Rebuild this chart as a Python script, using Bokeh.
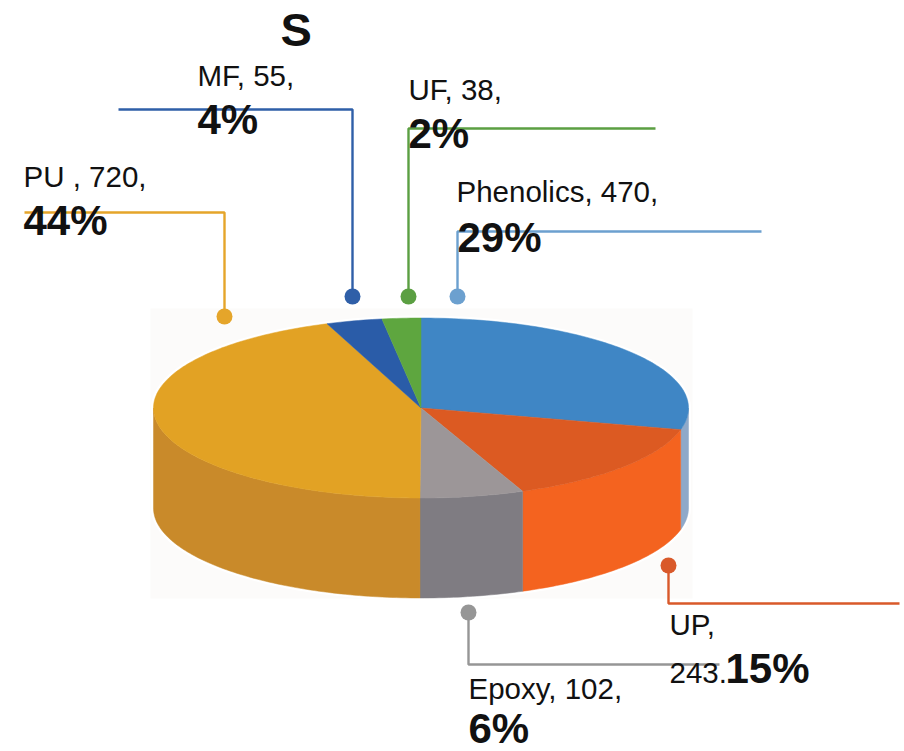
import numpy as np
from bokeh.core.properties import value
from bokeh.embed import file_html
from bokeh.models import ColumnDataSource, Range1d
from bokeh.plotting import figure
from bokeh.resources import INLINE

# ---- data (clockwise from 12 o'clock) ----
materials = ["Phenolics", "UP", "Epoxy", "PU", "MF", "UF"]
amounts = [470, 243, 102, 720, 55, 38]
percents = ["29%", "15%", "6%", "44%", "4%", "2%"]
title = "S"

# ---- styling ----
top_colors = ["#3F86C5", "#DC5A22", "#9C9698", "#E2A224", "#2A5CA8", "#5EA63F"]
wall_colors = ["#8FA9C9", "#F4631F", "#7F7C82", "#C98A2A", "#2A5CA8", "#5EA63F"]
leader_colors = ["#6CA0CF", "#D9592A", "#969696", "#E5A52A", "#2F5FA8", "#5B9F42"]

# ---- layout, in page pixels ----
W, H = 904, 751
CX, CY, RX, RY, DEPTH = 420.5, 407.5, 267.5, 90.0, 100.0
leaders = {
    "Phenolics": ([761, 457, 457], [231, 231, 296]),
    "UP": ([899, 668, 668], [603, 603, 565]),
    "Epoxy": ([719, 468, 468], [664, 664, 612]),
    "PU": ([24, 224, 224], [212, 212, 316]),
    "MF": ([118, 352, 352], [109, 109, 296]),
    "UF": ([655, 408, 408], [128, 128, 296]),
}
label_pos = {
    "Phenolics": (456, 202, 457, 252),
    "UP": (669, 635, 725, 683),
    "Epoxy": (468, 699, 468, 743),
    "PU": (23, 187, 23, 235),
    "MF": (197, 86, 197, 134),
    "UF": (408, 100, 408, 148),
}

p = figure(width=W, height=H, output_backend="svg", toolbar_location=None,
           x_range=Range1d(0, W), y_range=Range1d(H, 0),
           min_border=0, outline_line_color=None, background_fill_color="white",
           border_fill_color="white")
p.axis.visible = False
p.grid.visible = False

# photo-like pale backing behind the pie
p.quad(left=[150], right=[692], top=[308], bottom=[598],
       fill_color="#FCFBFA", line_color=None)


def rim(t0, t1, dy=0.0):
    t = np.radians(np.linspace(t0, t1, max(int(abs(t1 - t0)), 2) + 1))
    return CX + RX * np.sin(t), CY - RY * np.cos(t) + dy


# white halo round the silhouette
xa, ya = rim(0, 360)
xb, yb = rim(90, 270, DEPTH)
p.patch(list(xa), list(ya), fill_color="white", line_color="white", line_width=5)
p.patch(list(rim(90, 270)[0]) + list(xb[::-1]), list(rim(90, 270)[1]) + list(yb[::-1]),
        fill_color="white", line_color="white", line_width=5)

edges = np.concatenate([[0], np.cumsum(amounts)]) / np.sum(amounts) * 360.0

# walls (front half only)
wx, wy, wc = [], [], []
for i in range(len(amounts)):
    a, b = max(edges[i], 90), min(edges[i + 1], 270)
    if b <= a:
        continue
    x1, y1 = rim(a, b)
    x2, y2 = rim(a, b, DEPTH)
    wx.append(list(x1) + list(x2[::-1]))
    wy.append(list(y1) + list(y2[::-1]))
    wc.append(wall_colors[i])
p.patches("x", "y", fill_color="c", line_color="c", line_width=0.5,
          source=ColumnDataSource(dict(x=wx, y=wy, c=wc)))

# top face
tx, ty, tc = [], [], []
for i in range(len(amounts)):
    x1, y1 = rim(edges[i], edges[i + 1])
    tx.append([CX] + list(x1))
    ty.append([CY] + list(y1))
    tc.append(top_colors[i])
p.patches("x", "y", fill_color="c", line_color="c", line_width=0.5,
          source=ColumnDataSource(dict(x=tx, y=ty, c=tc)))

# leaders and their end dots
for name, color in zip(materials, leader_colors):
    lx, ly = leaders[name]
    p.line(lx, ly, line_color=color, line_width=2.4)
    p.scatter([lx[-1]], [ly[-1]], marker="circle", size=16, fill_color=color, line_color=None)


def put(x, y, s, size, style="normal"):
    # y is the wanted baseline; this backend places the text about its middle
    p.text([x], [y - 0.36 * size], text=[s], text_font=value("Liberation Sans"),
           text_font_size=value(f"{size}px"), text_font_style=style, text_color="#111111",
           text_baseline="alphabetic", text_align="left")


put(280, 46, title, 47, "bold")
for name, amount, pct in zip(materials, amounts, percents):
    x1, y1, x2, y2 = label_pos[name]
    sep = " , " if name == "PU" else ", "
    if name == "UP":
        put(x1, y1, f"{name},", 29.5)
        put(x1, y2, f"{amount}.", 29.5)
    else:
        put(x1, y1, f"{name}{sep}{amount},", 29.5)
    put(x2, y2, pct, 42, "bold")

open("out.html", "w").write(file_html(p, INLINE))
